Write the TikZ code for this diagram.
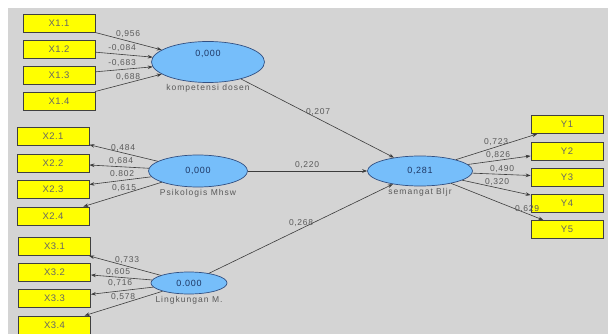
\documentclass[tikz,border=0pt]{standalone}
\usepackage{fontspec}
\setmainfont{Liberation Sans}
\newfontfamily\indfont[LetterSpace=5]{Liberation Sans}
\newfontfamily\valfont[LetterSpace=8]{Liberation Sans}
\newfontfamily\loadfont[LetterSpace=8]{Liberation Sans}
\newfontfamily\latfont[LetterSpace=12]{Liberation Sans}
\usepackage{xcolor}
\usepackage{tikz}
\usetikzlibrary{arrows.meta,calc,positioning,shapes.geometric}
\definecolor{bggray}{RGB}{212,212,212}
\definecolor{latblue}{RGB}{118,190,250}
\definecolor{latline}{RGB}{50,80,130}
\definecolor{latval}{RGB}{30,55,100}
\definecolor{indyel}{RGB}{255,255,0}
\definecolor{linegray}{RGB}{60,60,60}

\begin{document}
\begin{tikzpicture}[x=1pt,y=-1pt,>={Stealth[length=5pt,width=3.6pt]},
  ind/.style={draw=black!75,line width=0.8pt,fill=indyel,minimum width=72pt,minimum height=18pt,inner sep=0pt,text=black!60,font=\indfont\fontsize{9.5}{10}\selectfont},
  lat/.style={ellipse,draw=latline,line width=0.7pt,fill=latblue,inner sep=1pt,text=latval,font=\valfont\fontsize{9}{10}\selectfont},
  latname/.style={inner sep=1.5pt,text=black!65,font=\latfont\fontsize{8.5}{9}\selectfont},
  loadlab/.style={inner sep=0pt,text=black!65,font=\loadfont\fontsize{8.5}{9}\selectfont},
  arr/.style={->,draw=linegray,line width=0.6pt}]
\useasboundingbox (0,0) rectangle (608,334);
\fill[bggray] (8,8) rectangle (608,334);
% indicators
\foreach \n/\y in {1/23,2/49,3/75,4/101}{\node[ind] (x1\n) at (59,\y) {X1.\n};}
\foreach \n/\y in {1/136,2/163,3/189,4/216}{\node[ind] (x2\n) at (53,\y) {X2.\n};}
\foreach \n/\y in {1/246.5,2/272,3/298.5,4/325}{\node[ind] (x3\n) at (54.5,\y) {X3.\n};}
\foreach \n/\y in {1/124.5,2/151,3/177,4/203,5/229.5}{\node[ind] (y\n) at (567,\y) {Y\n};}
% latent variables
\node[lat,minimum width=113pt,minimum height=41pt,text depth=17pt,label={[latname,label distance=0pt]below:kompetensi dosen}] (komp) at (208,62) {0,000};
\node[lat,minimum width=99pt,minimum height=32pt,label={[latname,label distance=0pt]below:Psikologis Mhsw}] (psi) at (198,171) {0,000};
\node[lat,minimum width=76pt,minimum height=22pt,label={[latname,label distance=0pt]below:Lingkungan M.}] (ling) at (189,283) {0.000};
\node[lat,minimum width=105pt,minimum height=30pt,label={[latname,label distance=0pt]below:semangat Bljr}] (sem) at (420,171) {0,281};
% paths
\foreach \i in {1,...,4}{\draw[arr] (x1\i) -- (komp);}
\foreach \i in {1,...,4}{\draw[arr] (psi) -- (x2\i); \draw[arr] (ling) -- (x3\i);}
\foreach \i in {1,...,5}{\draw[arr] (sem) -- (y\i);}
\draw[arr] (komp) -- (sem);
\draw[arr] (psi) -- (sem);
\draw[arr] (ling) -- (sem);
% loadings and coefficients
\foreach \k/\x/\y/\v in {a/128/34/{0,956},b/122/48/{-0,084},c/122/63/{-0,683},d/128/77/{0,688},
  e/123/148/{0,484},f/121/161/{0,684},g/122/174/{0.802},h/124/188/{0,615},
  i/127/260/{0,733},j/118/272/{0,605},k/120/283/{0,716},l/123/297/{0,578},
  m/496/142/{0,723},n/498/155/{0,826},o/502/169/{0,490},p/497/182/{0,320},q/527/209/{0,629},
  r/318/112/{0,207},s/307/165/{0,220},t/301/223/{0,268}}
  {\node[loadlab] (v\k) at (\x,\y) {\v};}
\end{tikzpicture}
\end{document}
